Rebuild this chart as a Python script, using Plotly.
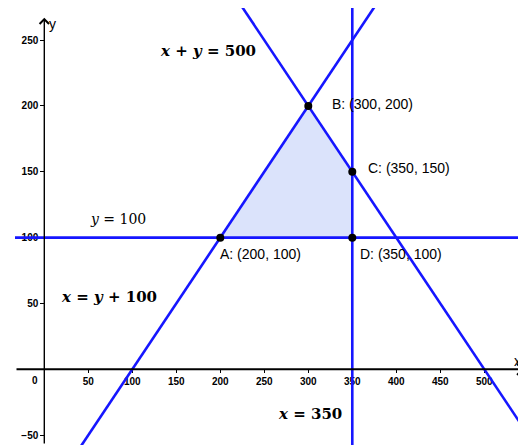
import plotly.graph_objects as go

# vertices of the feasible region
pt_names = ["A", "B", "C", "D"]
pt_x = [200, 300, 350, 350]
pt_y = [100, 200, 150, 100]

# each constraint line passes through two of the vertices (indices into pt_*)
line_pts = [(0, 3), (3, 2), (1, 2), (0, 1)]  # y=100, x=350, x+y=500, x=y+100

# equation labels: text, x, y, bold
eq_text = ["<i>x</i> + <i>y</i> = 500", "<i>y</i> = 100", "<i>x</i> = <i>y</i> + 100", "<i>x</i> = 350"]
eq_x = [186, 84, 73, 302]
eq_y = [242, 114, 55, -34]
eq_bold = [True, False, True, True]

xticks = [50, 100, 150, 200, 250, 300, 350, 400, 450, 500]
yticks = [-50, 50, 100, 150, 200, 250]

xr = [-33.3, 547.4]
yr = [-57.5, 274.4]
BLUE = "rgb(22,22,255)"

fig = go.Figure()

# shaded region
fig.add_trace(go.Scatter(x=pt_x + [pt_x[0]], y=pt_y + [pt_y[0]], fill="toself",
                         fillcolor="rgb(219,227,251)", line=dict(width=0),
                         mode="lines", hoverinfo="skip", showlegend=False))

# constraint lines, extended well past the view
for i, j in line_pts:
    dx, dy = pt_x[j] - pt_x[i], pt_y[j] - pt_y[i]
    xs = [pt_x[i] - 20 * dx, pt_x[i] + 20 * dx]
    ys = [pt_y[i] - 20 * dy, pt_y[i] + 20 * dy]
    fig.add_trace(go.Scatter(x=xs, y=ys, mode="lines", line=dict(color=BLUE, width=2.6),
                             hoverinfo="skip", showlegend=False))

# vertices
fig.add_trace(go.Scatter(x=pt_x, y=pt_y, mode="markers",
                         marker=dict(color="black", size=8), showlegend=False))

lbl_shift = [(-2, -16), (22, 2), (14, 4), (6, -16)]
for n, x, y, (sx, sy) in zip(pt_names, pt_x, pt_y, lbl_shift):
    fig.add_annotation(x=x, y=y, text=f"{n}: ({x}, {y})", showarrow=False,
                       xanchor="left", yanchor="middle", xshift=sx, yshift=sy,
                       font=dict(family="Liberation Sans", size=14, color="black"))

for t, x, y, b in zip(eq_text, eq_x, eq_y, eq_bold):
    fig.add_annotation(x=x, y=y, text=t, showarrow=False,
                       font=dict(family="DejaVu Serif", size=15 if b else 14, color="black",
                                 weight="bold" if b else "normal"))

# axis lines with arrow heads
fig.add_annotation(x=xr[1] - 1.5, y=0, ax=xr[0], ay=0, axref="x", ayref="y", xref="x", yref="y",
                   showarrow=True, arrowhead=4, arrowsize=1.1, arrowwidth=2, arrowcolor="black", text="")
fig.add_annotation(x=0, y=267, ax=0, ay=yr[0], axref="x", ayref="y", xref="x", yref="y",
                   showarrow=True, arrowhead=4, arrowsize=1.3, arrowwidth=1.4, arrowcolor="black", text="")
fig.add_annotation(x=538, y=6, text="x", showarrow=False,
                   font=dict(family="Liberation Sans", size=14, color="black"))
fig.add_annotation(x=9, y=262, text="y", showarrow=False,
                   font=dict(family="Liberation Sans", size=14, color="black"))
fig.add_annotation(x=0, y=0, text="0", showarrow=False, xanchor="right", yanchor="top",
                   xshift=-4, yshift=-4,
                   font=dict(family="Liberation Sans", size=10, color="black", weight="bold"))

tickfont = dict(family="Liberation Sans", size=10, color="black", weight="bold")
fig.update_xaxes(range=xr, anchor="free", position=(0 - yr[0]) / (yr[1] - yr[0]),
                 tickvals=xticks, ticks="outside", ticklen=3, tickcolor="black",
                 showgrid=False, zeroline=False, showline=False, tickfont=tickfont,
                 layer="below traces", automargin=False)
fig.update_yaxes(range=yr, anchor="free", position=(0 - xr[0]) / (xr[1] - xr[0]),
                 tickvals=yticks, ticks="outside", ticklen=4, tickcolor="black",
                 showgrid=False, zeroline=False, showline=False, tickfont=tickfont,
                 layer="below traces", automargin=False)

# page body has an 8px margin, so the figure is 8px smaller each way
fig.update_layout(width=518, height=437,
                  margin=dict(l=7, r=0, t=0, b=0, autoexpand=False),
                  plot_bgcolor="white", paper_bgcolor="white", showlegend=False)

fig.write_html("out.html")
